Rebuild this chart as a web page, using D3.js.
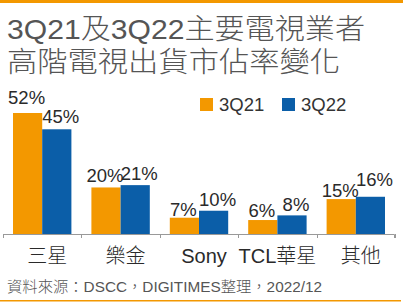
<!DOCTYPE html>
<html lang="zh-Hant">
<head>
<meta charset="UTF-8">
<title>3Q21及3Q22主要電視業者高階電視出貨市佔率變化</title>
<script src="https://cdnjs.cloudflare.com/ajax/libs/d3/7.8.5/d3.min.js"></script>
<style>
    body { margin: 0; background: #fff; }
    svg { display: block; font-family: "Liberation Sans", Arial, "Noto Sans CJK TC", sans-serif; font-weight: 300; }
</style>
</head>
<body>
<svg id="chart"></svg>
<script>
// Data
const categories = ["三星", "樂金", "Sony", "TCL華星", "其他"];
const seriesNames = ["3Q21", "3Q22"];
const values3Q21 = [52, 20, 7, 6, 15];
const values3Q22 = [45, 21, 10, 8, 16];

const COLORS = ["#f39800", "#0b5ea8"];
const width = 403, height = 302;

const svg = d3.select("#chart").attr("width", width).attr("height", height);

// top and bottom accent lines
svg.append("rect").attr("x", 0).attr("y", 0).attr("width", width).attr("height", 3).attr("fill", "#f39800");
svg.append("rect").attr("x", 0).attr("y", 300).attr("width", 401).attr("height", 1.5).attr("fill", "#f39800");

// title
const title = svg.append("g").attr("fill", "#555").attr("font-size", 28);
title.append("text").attr("x", 7).attr("y", 39).attr("textLength", 358).attr("lengthAdjust", "spacingAndGlyphs")
    .text("3Q21及3Q22主要電視業者");
title.append("text").attr("x", 7).attr("y", 72).attr("textLength", 333).attr("lengthAdjust", "spacingAndGlyphs")
    .text("高階電視出貨市佔率變化");

// scales
const x0 = d3.scaleBand().domain(categories).range([3, 395]).paddingInner(0).paddingOuter(0);
const x1 = d3.scaleBand().domain(seriesNames).range([10, x0.bandwidth() - 10]);
const y = d3.scaleLinear().domain([0, 52]).range([234, 113]);

const rows = categories.map((c, i) => ({ cat: c, vals: [values3Q21[i], values3Q22[i]] }));

const groups = svg.append("g").selectAll("g").data(rows).join("g")
    .attr("transform", d => `translate(${x0(d.cat)},0)`);

groups.selectAll("rect").data(d => d.vals.map((v, k) => ({ v, k }))).join("rect")
    .attr("x", d => x1(seriesNames[d.k]))
    .attr("y", d => y(d.v))
    .attr("width", x1.bandwidth())
    .attr("height", d => y(0) - y(d.v))
    .attr("fill", d => COLORS[d.k]);

// value labels (lift above bar top, nudged like the original)
const labelLift = [[9, 6], [5, 5], [2, 5], [3, 4], [2, 11]];
groups.each(function (d, i) {
    d3.select(this).selectAll("text.val").data(d.vals).join("text")
        .attr("class", "val")
        .attr("x", (v, k) => x1(seriesNames[k]) + x1.bandwidth() / 2 + (k === 1 ? 4 : -1))
        .attr("y", (v, k) => y(v) - labelLift[i][k])
        .attr("text-anchor", "middle")
        .attr("font-size", 18.5)
        .attr("fill", "#2a2a2a")
        .text(v => v + "%");
});

// x axis
const axis = svg.append("g").attr("transform", `translate(0,${y(0)})`)
    .call(d3.axisBottom(x0).tickSize(0).tickFormat(""));
axis.select(".domain").attr("stroke", "#999").attr("d", "M3.5,4V0.5H394.5V4");
axis.selectAll(".tick").remove();
const edges = categories.map(c => x0(c)).concat([x0.range()[1]]);
axis.selectAll("line.sep").data(edges).join("line")
    .attr("class", "sep")
    .attr("x1", d => Math.round(d) + 0.5).attr("x2", d => Math.round(d) + 0.5)
    .attr("y1", 0).attr("y2", 4)
    .attr("stroke", "#999");

svg.append("g").selectAll("text").data(categories).join("text")
    .attr("x", d => x0(d) + x0.bandwidth() / 2 + (d === "TCL華星" ? 0 : 5))
    .attr("y", 263)
    .attr("text-anchor", "middle")
    .attr("font-size", 20)
    .attr("fill", "#2a2a2a")
    .text(d => d);

// legend
const legend = svg.append("g").selectAll("g").data(seriesNames).join("g")
    .attr("transform", (d, i) => `translate(${200 + i * 82},98)`);
legend.append("rect").attr("width", 13).attr("height", 13).attr("fill", (d, i) => COLORS[i]);
legend.append("text").attr("x", 19).attr("y", 13).attr("font-size", 18.5).attr("fill", "#333").text(d => d);

// source
svg.append("text").attr("x", 7).attr("y", 292).attr("font-size", 15).attr("fill", "#555")
    .attr("textLength", 315).attr("lengthAdjust", "spacingAndGlyphs")
    .text("資料來源：DSCC，DIGITIMES整理，2022/12");
</script>
</body>
</html>
